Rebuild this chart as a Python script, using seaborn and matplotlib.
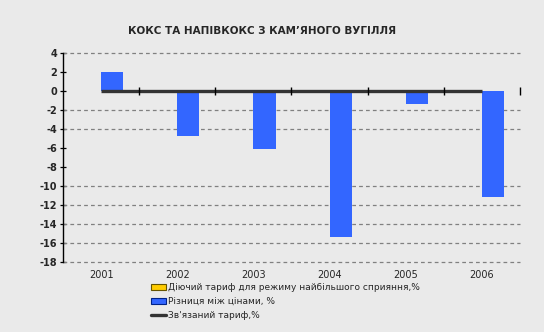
import numpy as np
import pandas as pd
import matplotlib
matplotlib.use("Agg")
import matplotlib.pyplot as plt
import matplotlib.patches as mpatches
import matplotlib.lines as mlines
import seaborn as sns

years = ["2001", "2002", "2003", "2004", "2005", "2006"]
mfn_tariff = [0, 0, 0, 0, 0, 0]
price_diff = [2.0, -4.7, -6.1, -15.4, -1.3, -11.2]
bound_tariff = [0, 0, 0, 0, 0, 0]
y_ticks = [4, 2, 0, -2, -4, -6, -8, -10, -12, -14, -16, -18]
grid_values = [4, -2, -4, -10, -12, -14, -16, -18]

title = "КОКС ТА НАПІВКОКС З КАМ’ЯНОГО ВУГІЛЛЯ"
lbl_mfn = "Діючий тариф для режиму найбільшого сприяння,%"
lbl_diff = "Різниця між цінами, %"
lbl_bound = "Зв'язаний тариф,%"

sns.set_theme(style="white")
plt.rcParams['font.family'] = ['DejaVu Sans']
plt.rcParams['axes.grid'] = False
bg = "#EAEAEA"

fig = plt.figure(figsize=(5.44, 3.32), dpi=100, facecolor=bg)
ax = fig.add_axes([63/544, 1-262/332, (520-63)/544, (262-53.3)/332])
ax.set_facecolor(bg)

df = pd.DataFrame({
    "year": years * 2,
    "series": [lbl_mfn] * len(years) + [lbl_diff] * len(years),
    "value": mfn_tariff + price_diff,
})
sns.barplot(data=df, x="year", y="value", hue="series",
            palette={lbl_mfn: "#FFCC00", lbl_diff: "#3366FF"},
            saturation=1, width=0.58, dodge=True, edgecolor="none", linewidth=0,
            errorbar=None, legend=False, ax=ax, zorder=3)

ax.plot(np.arange(len(years)), bound_tariff, color="#333333", lw=2.4,
        solid_capstyle="butt", zorder=4)

# category boundary ticks on the zero line
boundaries = np.arange(len(years)) + 0.5
ax.plot(boundaries, np.zeros(len(boundaries)), ls="none", marker="|",
        ms=6, mew=1.0, color="black", zorder=5, clip_on=False)

ax.grid(False)
ax.set_ylim(-18, 4)
ax.set_xlim(-0.5, len(years) - 0.5)
ax.set_yticks(y_ticks)
ax.set_yticklabels([str(v) for v in y_ticks], fontsize=7, fontweight="bold")
for g in grid_values:
    ax.axhline(g, color="#808080", lw=0.9, ls=(0, (3, 2.5)), zorder=1, clip_on=False)

ax.tick_params(axis="y", direction="inout", length=4, width=0.9, color="black", pad=2, left=True)
ax.tick_params(axis="x", length=0, labelsize=7, pad=6)
ax.set_xlabel("")
ax.set_ylabel("")
for s in ["top", "right", "bottom"]:
    ax.spines[s].set_visible(False)
ax.spines["left"].set_color("black")
ax.spines["left"].set_linewidth(1.0)

fig.text(262/544, 1-31/332, title, ha="center", va="center",
         fontsize=7.5, fontweight="bold")

handles = [
    mpatches.Patch(facecolor="#FFCC00", edgecolor="#665500", linewidth=0.8, label=lbl_mfn),
    mpatches.Patch(facecolor="#3366FF", edgecolor="#002288", linewidth=0.8, label=lbl_diff),
    mlines.Line2D([], [], color="#333333", lw=2.4, label=lbl_bound),
]
fig.legend(handles=handles, loc="upper left", bbox_to_anchor=(151/544, 1-283/332),
           frameon=False, fontsize=6.5, handlelength=1.7, handleheight=0.7,
           handletextpad=0.15, labelspacing=0.55, borderaxespad=0, borderpad=0)

fig.savefig("out.png", dpi=100, facecolor=bg)
